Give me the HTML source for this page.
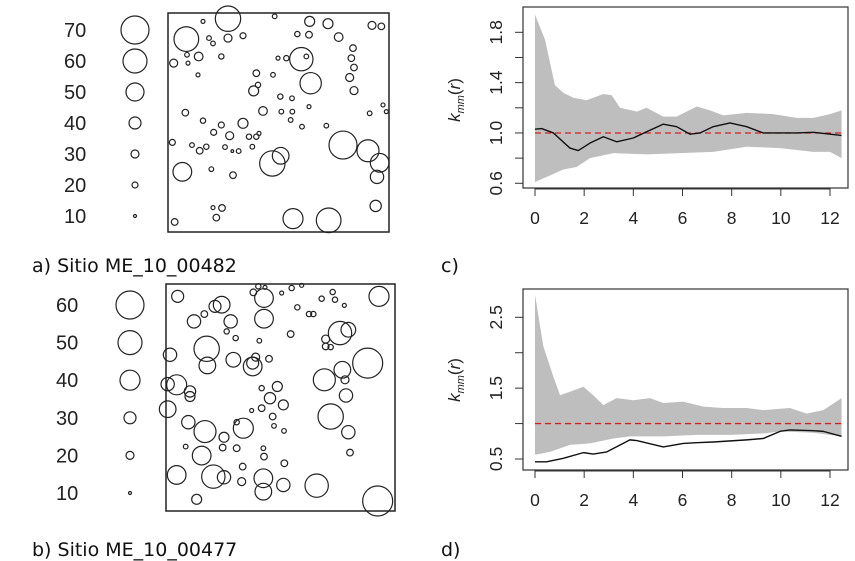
<!DOCTYPE html>
<html><head><meta charset="utf-8"><style>
html,body{margin:0;padding:0;background:#fff;width:855px;height:561px;overflow:hidden}
svg text{font-family:"Liberation Sans",Arial,sans-serif}
.cap{font-family:"DejaVu Sans","Liberation Sans",sans-serif;font-size:19px;fill:#111}
</style></head><body>
<svg id="s" width="855" height="561" viewBox="0 0 855 561" xmlns="http://www.w3.org/2000/svg">
<text class="cap" x="32" y="272">a) Sitio ME_10_00482</text>
<text class="cap" x="441" y="272">c)</text>
<text class="cap" x="32" y="556">b) Sitio ME_10_00477</text>
<text class="cap" x="441" y="556">d)</text>
</svg>
<script>
// ---- stem maps (coordinates in plot units, r in size units) ----
const aX=[205,80,425,453,550,625,660,338,363,68,400,507,652,648,537,505,450,637,665,205,117,42,282,310,448,580,575,583,570,583,250,210,220,170,187,45,38,77,120,140,97,130,185,162,250,185,160,148,82,85,115,290,295,340,362,397,365,398,393,427,500,355,380,440,413,345,130,268,290,298,278,237,196,155,160,630,670,680,448,218];
const aY=[42,103,163,235,420,437,473,475,452,500,640,645,515,602,97,57,50,62,65,100,155,175,258,318,90,130,160,188,218,257,355,392,510,637,608,650,412,323,437,425,420,347,360,382,93,155,116,100,150,175,210,205,240,210,275,280,320,320,345,365,362,160,160,155,88,35,50,395,395,385,425,438,426,492,607,325,300,320,305,438];
const aR=[38,37,35,32,42,33,28,38,25,28,30,37,20,17,13,15,15,12,10,12,13,12,15,13,10,10,10,10,12,12,15,12,10,10,10,10,9,10,10,8,7,8,9,9,9,8,7,7,7,6,6,10,8,7,8,7,7,7,7,7,7,6,8,7,8,7,6,8,8,6,7,7,7,7,6,7,6,6,6,4];
const bX=[68,200,180,117,227,327,327,155,157,45,235,293,293,302,65,38,105,105,38,100,150,265,245,345,367,385,320,353,207,203,245,140,175,207,65,125,325,325,260,385,388,485,508,527,562,570,573,580,638,672,668,555,580,512,512,527,410,440,533,540,500,568,427,462,475,407,313,342,320,357,387,325,327,263,242,215,295,310,330,380,92,585,148,290];
const bY=[55,80,85,130,130,60,122,212,262,230,245,265,255,237,320,318,340,355,393,432,460,450,432,360,325,380,390,415,477,508,510,532,595,597,590,663,600,640,610,620,555,622,305,415,275,305,352,462,255,55,668,165,155,183,205,207,30,22,42,65,62,82,88,108,108,168,188,242,330,443,458,510,535,565,180,160,43,25,28,45,505,523,108,397];
const bR=[18,25,18,20,20,28,28,38,25,20,22,28,18,12,30,20,17,15,25,20,33,30,8,17,15,15,10,10,15,10,10,28,35,20,28,15,28,25,12,20,10,35,33,38,25,12,20,20,45,30,45,35,22,12,10,8,8,6,8,8,8,6,8,8,8,10,7,10,8,7,7,7,10,10,8,8,10,8,6,6,7,10,10,6];
const legAVals=[70,60,50,40,30,20,10];
const legARad=[14,12,9,6,4,3,1.5];
const legBVals=[60,50,40,30,20,10];
const legBRad=[14,12,10,6,4,1.5];
// ---- chart c ----
const cUpR=[0,0.41,0.81,1.15,1.56,2.1,2.78,3.12,3.46,4.14,4.54,5.22,5.76,6.58,7.12,7.66,8.61,9.69,10.64,11.32,12,12.47];
const cUpV=[1.94,1.74,1.38,1.32,1.28,1.26,1.31,1.3,1.2,1.17,1.2,1.13,1.13,1.21,1.18,1.14,1.16,1.15,1.12,1.12,1.15,1.18];
const cLoR=[0,0.47,1.15,1.69,2.24,3.19,4.54,5.9,7.25,8.61,9.97,11.32,12,12.47];
const cLoV=[0.61,0.65,0.71,0.73,0.8,0.84,0.83,0.84,0.85,0.89,0.88,0.85,0.85,0.8];
const cLnR=[0,0.27,0.75,1.42,1.76,2.24,2.78,3.32,4.0,4.54,5.22,5.76,6.31,6.71,7.25,7.93,8.61,9.29,10.64,11.32,12.47];
const cLnV=[1.03,1.035,1.0,0.88,0.86,0.92,0.97,0.93,0.96,1.01,1.07,1.05,0.99,1.0,1.05,1.08,1.05,1.0,1.0,1.005,0.98];
const cTicks=[0.6,0.8,1.0,1.2,1.4,1.6,1.8];
const cLabels=["0.6","","1.0","","1.4","","1.8"];
// ---- chart d ----
const dUpR=[0,0.34,0.75,1.02,1.42,1.97,2.37,2.78,3.32,4.0,4.68,5.22,6.03,6.85,7.66,8.61,9.29,10.37,11.05,11.73,12.47];
const dUpV=[2.82,2.09,1.66,1.4,1.45,1.52,1.4,1.26,1.36,1.33,1.36,1.29,1.31,1.24,1.22,1.22,1.19,1.22,1.14,1.19,1.36];
const dLoR=[0,0.61,1.42,2.24,3.19,3.86,5.22,6.58,7.93,9.29,9.97,11.32,12.47];
const dLoV=[0.56,0.6,0.7,0.72,0.79,0.82,0.82,0.84,0.84,0.86,0.89,0.87,0.82];
const dLnR=[0,0.47,1.15,1.97,2.37,2.92,3.86,4.14,5.22,6.03,6.58,7.25,8.61,9.29,9.97,10.37,11.32,11.73,12.47];
const dLnV=[0.46,0.46,0.51,0.59,0.57,0.6,0.77,0.76,0.67,0.72,0.73,0.74,0.77,0.79,0.89,0.91,0.9,0.89,0.82];
const dTicks=[0.5,1.0,1.5,2.0,2.5];
const dLabels=["0.5","","1.5","","2.5"];
const xTicks=[0,2,4,6,8,10,12];

const NS="http://www.w3.org/2000/svg";
const svg=document.getElementById('s');
function mk(tag,attrs,parent){const e=document.createElementNS(NS,tag);for(const k in attrs)e.setAttribute(k,attrs[k]);(parent||svg).appendChild(e);return e;}

function stemMap(X,Y,R,box,name){
  const g=mk('g',{});
  
  
  const sx=v=>box.x0+(v-box.d[0])/(box.d[1]-box.d[0])*(box.x1-box.x0);
  const sy=v=>box.y0+(v-box.d[2])/(box.d[3]-box.d[2])*(box.y1-box.y0);
  const fr=r=>r/3;
  for(let i=0;i<X.length;i++){
    const c=mk('circle',{cx:sx(X[i]),cy:sy(Y[i]),r:Math.max(1.2,fr(R[i])),fill:'none',stroke:'#222','stroke-width':1.2},g);
    
    
  }
  const b=mk('rect',{x:box.x0,y:box.y0,width:box.x1-box.x0,height:box.y1-box.y0,fill:'none',stroke:'#222','stroke-width':1.5},g);
  
  
}
stemMap(aX,aY,aR,{x0:168,x1:389,y0:13,y1:232,d:[25,688,25,680]},'stem-map-a');
stemMap(bX,bY,bR,{x0:166,x1:395,y0:284,y1:511,d:[33,720,18,698]},'stem-map-b');

function legend(vals,rad,y0,y1,tx,cx,name){
  const g=mk('g',{});
  
  
  for(let i=0;i<vals.length;i++){
    const y=y0+(y1-y0)*i/(vals.length-1);
    const t=mk('text',{x:tx,y:y+7,'font-size':20,fill:'#222'},g);t.textContent=vals[i];
    
    
    const c=mk('circle',{cx:cx,cy:y,r:rad[i],fill:'none',stroke:'#222','stroke-width':1.2},g);
    
    
  }
}
legend(legAVals,legARad,30,216,64,135,'size-legend-a');
legend(legBVals,legBRad,305,493,56,130,'size-legend-b');

function kchart(o,name){
  const g=mk('g',{});
  
  
  const sx=r=>535+r*(830-535)/12;
  const sy=v=>o.py0+(v-o.v0)/(o.v1-o.v0)*(o.py1-o.py0);
  let d='';
  o.upR.forEach((r,i)=>{d+=(i?'L':'M')+sx(r)+','+sy(o.upV[i]);});
  for(let i=o.loR.length-1;i>=0;i--)d+='L'+sx(o.loR[i])+','+sy(o.loV[i]);
  const env=mk('path',{d:d+'Z',fill:'#bebebe',stroke:'none'},g);
  
  
  const ref=mk('line',{x1:sx(0),x2:sx(12.47),y1:sy(1),y2:sy(1),stroke:'#d62020','stroke-width':1.3,'stroke-dasharray':'6,4'},g);
  
  
  let l='';o.lnR.forEach((r,i)=>{l+=(i?'L':'M')+sx(r)+','+sy(o.lnV[i]);});
  const ln=mk('path',{d:l,fill:'none',stroke:'#111','stroke-width':1.4,'stroke-linejoin':'round'},g);
  
  
  const bx=mk('rect',{x:523,y:o.by0,width:325,height:o.by1-o.by0,fill:'none',stroke:'#333','stroke-width':1.2},g);
  
  
  const xa=mk('g',{},g);
  
  
  mk('line',{x1:sx(0),x2:sx(12),y1:o.by1+1,y2:o.by1+1,stroke:'#333'},xa);
  xTicks.forEach(t=>{mk('line',{x1:sx(t),x2:sx(t),y1:o.by1,y2:o.by1+8,stroke:'#333'},xa);
    const tx=mk('text',{x:sx(t),y:o.by1+36,'font-size':17.5,'text-anchor':'middle',fill:'#222'},xa);tx.textContent=t;
    
    });
  const ya=mk('g',{},g);
  
  
  mk('line',{x1:523,x2:523,y1:sy(o.ticks[0]),y2:sy(o.ticks[o.ticks.length-1]),stroke:'#333'},ya);
  o.ticks.forEach((t,i)=>{mk('line',{x1:515,x2:523,y1:sy(t),y2:sy(t),stroke:'#333'},ya);
    if(o.labels[i]){const tx=mk('text',{x:0,y:0,'font-size':17.5,'text-anchor':'middle',fill:'#222',transform:`translate(502,${sy(t)}) rotate(-90)`},ya);tx.textContent=o.labels[i];
    
    }});
  const yl=mk('text',{x:0,y:0,'font-size':17,'text-anchor':'middle',fill:'#222',transform:`translate(460,${o.ylab}) rotate(-90)`},g);
  yl.innerHTML='<tspan font-style="italic">k</tspan><tspan font-style="italic" font-size="11" dy="4">mm</tspan><tspan dy="-4">(</tspan><tspan font-style="italic">r</tspan><tspan>)</tspan>';
  
  
}
kchart({upR:cUpR,upV:cUpV,loR:cLoR,loV:cLoV,lnR:cLnR,lnV:cLnV,ticks:cTicks,labels:cLabels,v0:1.8,v1:0.6,py0:32.3,py1:183.3,by0:7,by1:188,ylab:100},'kmm-chart-c');
kchart({upR:dUpR,upV:dUpV,loR:dLoR,loV:dLoV,lnR:dLnR,lnV:dLnV,ticks:dTicks,labels:dLabels,v0:2.5,v1:0.5,py0:317.3,py1:459,by0:289,by1:470,ylab:380},'kmm-chart-d');
</script>
</body></html>
